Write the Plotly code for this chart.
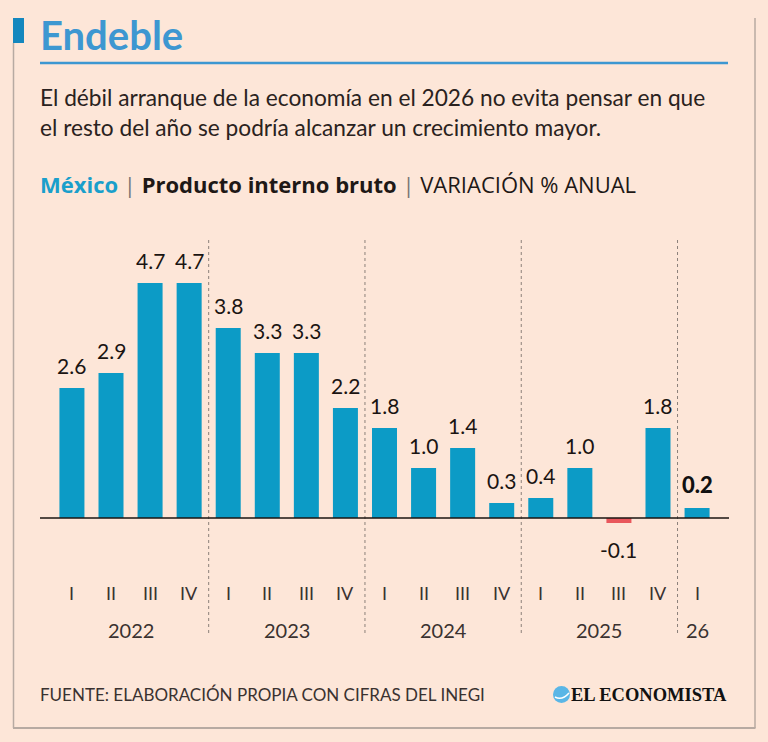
import plotly.graph_objects as go

#-------------------------------------------------------------------------------------------
# data
quarters = ["I", "II", "III", "IV", "I", "II", "III", "IV", "I", "II", "III", "IV",
            "I", "II", "III", "IV", "I"]
values = [2.6, 2.9, 4.7, 4.7, 3.8, 3.3, 3.3, 2.2, 1.8, 1.0, 1.4, 0.3, 0.4, 1.0, -0.1, 1.8, 0.2]
years = ["2022", "2023", "2024", "2025", "26"]
year_pos = [1.5, 5.5, 9.5, 13.5, 16]
separators = [3.5, 7.5, 11.5, 15.5]

W = 768
H = 742
OFF = 8  # page body margin
BG = "#fde6d8"
BLUE = "#0c9bc6"
RED = "#e9575c"
DARK = "#2a2220"
FONT = "Lato"

# pixel positions (as seen on the page) -> paper fractions
def px(x):
	return (x - OFF) / W

def py(y):
	return 1 - (y - OFF) / H

x = list(range(len(values)))
colors = [BLUE if v >= 0 else RED for v in values]

fig = go.Figure()
fig.add_trace(go.Bar(x=x, y=values, marker_color=colors, marker_line_width=0,
                     width=0.64, hoverinfo="skip"))

# y scale: zero at 518px, 50px per unit
y_top, y_bot = 5.6, -1.5
fig.update_layout(
	width=W, height=H,
	margin=dict(l=0, r=0, t=0, b=0),
	paper_bgcolor=BG, plot_bgcolor="rgba(0,0,0,0)",
	showlegend=False,
	font=dict(family=FONT, color=DARK),
	xaxis=dict(domain=[px(52.4), px(716.6)], range=[-0.5, 16.5], visible=False, fixedrange=True),
	yaxis=dict(domain=[py(518 + 50 * -y_bot), py(518 - 50 * y_top)], range=[y_bot, y_top],
	           visible=False, fixedrange=True),
)

ann = []
# value labels
for i, v in enumerate(values):
	txt = ("%.1f" % v)
	f = dict(size=21, color="#1a1412")
	if i == len(values) - 1:
		f = dict(size=22, color="#111", weight=900)
	if v >= 0:
		ann.append(dict(x=i, y=v, xref="x", yref="y", text=txt, showarrow=False,
		                yanchor="bottom", yshift=8, font=f))
	else:
		ann.append(dict(x=i, y=v, xref="x", yref="y", text=txt, showarrow=False,
		                yanchor="top", yshift=-12, font=f))
# quarter labels
for i, q in enumerate(quarters):
	ann.append(dict(x=i, y=py(593), xref="x", yref="paper", yanchor="middle", text=q,
	                showarrow=False, font=dict(size=18, color="#3a3230")))
# year labels
for p, yr in zip(year_pos, years):
	ann.append(dict(x=p, y=py(630), xref="x", yref="paper", yanchor="middle", text=yr,
	                showarrow=False, font=dict(size=20, color="#3a3230")))

# header texts
ann.append(dict(x=px(38), y=py(35), xref="paper", yref="paper", xanchor="left", yanchor="middle",
                showarrow=False, text="<b>Endeble</b>", font=dict(size=40, color="#3d97d1")))
ann.append(dict(x=px(38), y=py(112), xref="paper", yref="paper", xanchor="left", yanchor="middle",
                align="left", showarrow=False,
                text="El débil arranque de la economía en el 2026 no evita pensar en que<br>"
                     "el resto del año se podría alcanzar un crecimiento mayor.",
                font=dict(size=22.7, color=DARK)))
ann.append(dict(x=px(38), y=py(184), xref="paper", yref="paper", xanchor="left", yanchor="middle",
                showarrow=False,
                text="<b><span style='color:#1a9fcb'>México</span></b>"
                     " <span style='color:#777'>|</span> "
                     "<b>Producto interno bruto</b>"
                     " <span style='color:#777'>|</span> VARIACIÓN % ANUAL",
                font=dict(family="Open Sans", size=22, color="#1e1816")))
# footer
ann.append(dict(x=px(38), y=py(694), xref="paper", yref="paper", xanchor="left", yanchor="middle",
                showarrow=False, text="FUENTE: ELABORACIÓN PROPIA CON CIFRAS DEL INEGI",
                font=dict(size=17, color="#3a3230")))
ann.append(dict(x=px(729), y=py(695), xref="paper", yref="paper", xanchor="right", yanchor="middle",
                showarrow=False, text="<b>EL ECONOMISTA</b>",
                font=dict(family="Liberation Serif", size=18.5, color="#111")))
fig.update_layout(annotations=ann)

shapes = []
frame = "#b7aaa2"
# frame
shapes.append(dict(type="line", xref="paper", yref="paper", x0=px(13.5), x1=px(13.5),
                   y0=py(43), y1=py(728), line=dict(color=frame, width=1.5)))
shapes.append(dict(type="line", xref="paper", yref="paper", x0=px(755), x1=px(755),
                   y0=py(18), y1=py(728), line=dict(color=frame, width=1.5)))
shapes.append(dict(type="line", xref="paper", yref="paper", x0=px(13), x1=px(755.5),
                   y0=py(728), y1=py(728), line=dict(color=frame, width=2)))
# title marker and rule
shapes.append(dict(type="rect", xref="paper", yref="paper", x0=px(13), x1=px(24),
                   y0=py(43), y1=py(18), fillcolor="#1487be", line_width=0))
shapes.append(dict(type="line", xref="paper", yref="paper", x0=px(40), x1=px(728),
                   y0=py(63), y1=py(63), line=dict(color="#3d97d1", width=2.5)))
# year separators
for s in separators:
	shapes.append(dict(type="line", xref="x", yref="paper", x0=s, x1=s,
	                   y0=py(240), y1=py(636), line=dict(color="#8c807a", width=1, dash="dot")))
# zero line
shapes.append(dict(type="line", xref="paper", yref="y", x0=px(40), x1=px(729),
                   y0=0, y1=0, line=dict(color="#1a1412", width=1.5)))
# logo globe
shapes.append(dict(type="circle", xref="paper", yref="paper", x0=px(553), x1=px(570),
                   y0=py(703), y1=py(686), fillcolor="#5ab6e6", line_width=0))
shapes.append(dict(type="path", xref="paper", yref="paper",
                   path="M %f %f Q %f %f %f %f" % (px(555), py(697), px(562), py(701), px(569), py(693)),
                   line=dict(color="white", width=1.5)))
fig.update_layout(shapes=shapes)

fig.write_html("out.html", post_script="document.body.style.background='" + BG + "';")
